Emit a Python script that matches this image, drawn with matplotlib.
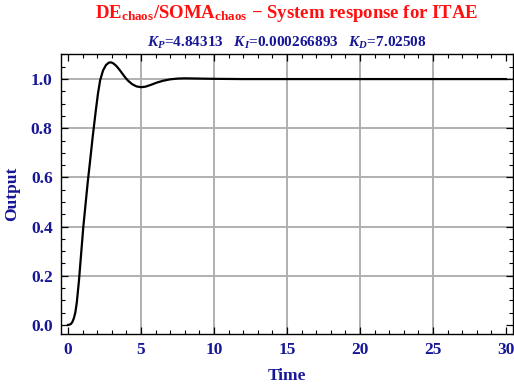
import matplotlib
matplotlib.use("Agg")
import matplotlib.pyplot as plt
from matplotlib.ticker import MultipleLocator, FormatStrFormatter

# step response
time = [0.0, 0.1, 0.2, 0.3, 0.4, 0.5, 0.6, 0.75, 0.9, 1.05, 1.2, 1.35, 1.5, 1.7, 1.9, 2.05, 2.2,
        2.4, 2.6, 2.8, 2.95, 3.1, 3.3, 3.5, 3.7, 3.9, 4.1, 4.4, 4.7, 5.0, 5.3,
        5.7, 6.1, 6.5, 7.0, 7.5, 8.0, 9.0, 10.0, 12.0, 15.0, 20.0, 25.0, 30.0]
output = [0.0, 0.001, 0.004, 0.012, 0.027, 0.05, 0.09, 0.18, 0.29, 0.4, 0.49, 0.58, 0.66, 0.77, 0.87, 0.94, 0.995,
          1.035, 1.057, 1.067, 1.068, 1.064, 1.054, 1.04, 1.024, 1.008, 0.994, 0.979, 0.97, 0.967, 0.969,
          0.977, 0.986, 0.993, 0.999, 1.002, 1.003, 1.002, 1.001, 1.0, 1.0, 1.0, 1.0, 1.0]

title_main = r"$\mathrm{DE_{chaos}/SOMA_{chaos}}$ $-$ System response for ITAE"
title_gains = r"$K_P$=4.84313   $K_I$=0.000266893   $K_D$=7.02508"

navy = "#161696"
red = "#ff1010"

plt.rcParams["font.family"] = ["Liberation Serif", "DejaVu Serif"]
plt.rcParams["font.weight"] = "bold"
plt.rcParams["mathtext.fontset"] = "custom"
plt.rcParams["mathtext.rm"] = "Liberation Serif:bold"
plt.rcParams["mathtext.it"] = "Liberation Serif:bold:italic"
plt.rcParams["mathtext.bf"] = "Liberation Serif:bold"

fig = plt.figure(figsize=(5.14, 3.84), dpi=100)
ax = fig.add_axes([61 / 514, 1 - 334 / 384, 452 / 514, 280 / 384])

for g in [5, 10, 15, 20, 25]:
    ax.axvline(g, color="#b0b0b0", lw=1.4, zorder=1)
for g in [0.2, 0.4, 0.6, 0.8, 1.0]:
    ax.axhline(g, color="#b0b0b0", lw=1.4, zorder=1)

ax.plot(time, output, color="black", lw=1.6, zorder=3)

ax.set_xlim(-0.48, 30.48)
ax.set_ylim(-0.037, 1.102)
ax.xaxis.set_major_locator(MultipleLocator(5))
ax.xaxis.set_minor_locator(MultipleLocator(1))
ax.yaxis.set_major_locator(MultipleLocator(0.2))
ax.yaxis.set_minor_locator(MultipleLocator(0.05))
ax.yaxis.set_major_formatter(FormatStrFormatter("%.1f"))

ax.tick_params(which="both", direction="in", top=True, right=True,
               labelcolor=navy, labelsize=12.5, color="black")
ax.tick_params(which="major", length=5, width=0.9, pad=6)
ax.tick_params(which="minor", length=3, width=0.8)
for lab in ax.get_xticklabels() + ax.get_yticklabels():
    lab.set_fontweight("bold")
for s in ax.spines.values():
    s.set_linewidth(1.0)

ax.set_xlabel("Time", color=navy, fontsize=12.5, fontweight="bold", labelpad=7)
ax.set_ylabel("Output", color=navy, fontsize=12.5, fontweight="bold", labelpad=8)

fig.text(287 / 514, 1 - 14 / 384, title_main, color=red, fontsize=13.5,
         fontweight="bold", ha="center", va="center")
fig.text(287 / 514, 1 - 43 / 384, title_gains, color=navy, fontsize=11,
         fontweight="bold", ha="center", va="center")

fig.savefig("out.png", dpi=100)
